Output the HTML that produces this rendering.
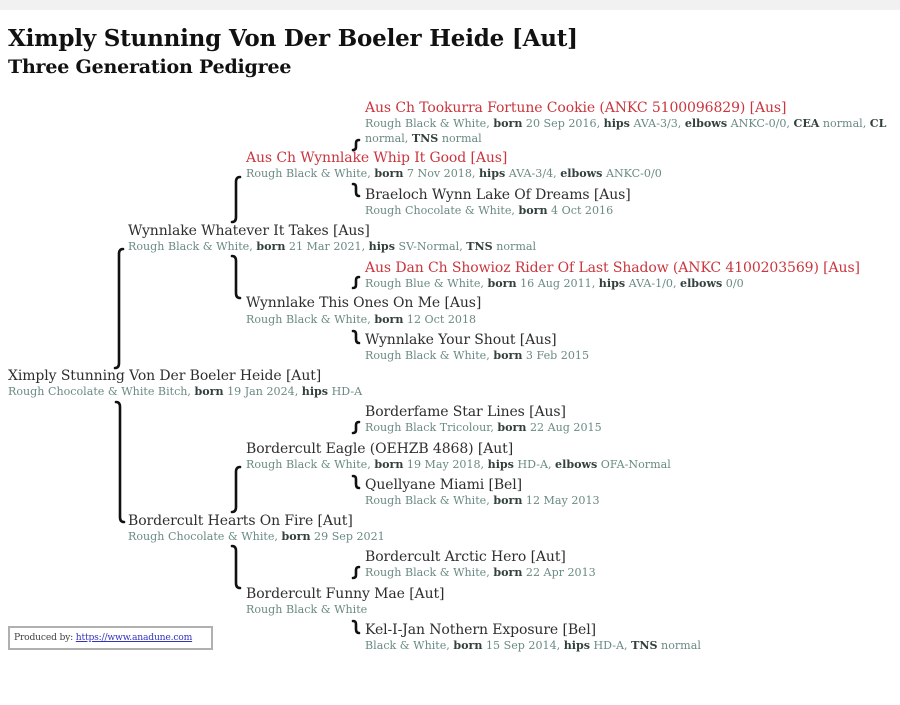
<!DOCTYPE html>
<html><head><meta charset="utf-8">
<style>
body{margin:0;width:900px;height:705px;background:#fff;position:relative;overflow:hidden;font-family:"DejaVu Serif","Liberation Serif",serif;}
.bar{position:absolute;left:0;top:0;width:900px;height:10px;background:#f1f1f1;}
.t1{position:absolute;left:8px;top:25px;font-size:23px;font-weight:bold;color:#111;white-space:nowrap;letter-spacing:-0.2px}
.t2{position:absolute;left:8px;top:56px;font-size:19px;font-weight:bold;color:#111;white-space:nowrap;letter-spacing:-0.2px}
.n{position:absolute;font-size:14px;line-height:16px;color:#2e2e2e;white-space:nowrap;letter-spacing:-0.1px}
.r{color:#c9363e}
.d{position:absolute;font-size:11.1px;line-height:14px;color:#6a8a83;white-space:nowrap}
.d b{color:#33413e}
svg{position:absolute;left:0;top:0}
.box{position:absolute;left:8px;top:626px;border:2px solid #b0b0b0;font-size:9.2px;line-height:20px;color:#444;padding-left:4px;box-sizing:border-box;width:205px;height:24px;white-space:nowrap;overflow:hidden;letter-spacing:-0.2px}
.box span{color:#3333bb;text-decoration:underline}
</style></head><body>
<div class="bar"></div>
<div class="t1">Ximply Stunning Von Der Boeler Heide [Aut]</div>
<div class="t2">Three Generation Pedigree</div>

<div class="n r" style="left:365px;top:100px">Aus Ch Tookurra Fortune Cookie (ANKC 5100096829) [Aus]</div>
<div class="d" style="left:365px;top:117px">Rough Black &amp; White, <b>born</b> 20 Sep 2016, <b>hips</b> AVA-3/3, <b>elbows</b> ANKC-0/0, <b>CEA</b> normal, <b>CL</b></div>
<div class="d" style="left:365px;top:132px">normal, <b>TNS</b> normal</div>

<div class="n r" style="left:246px;top:150px">Aus Ch Wynnlake Whip It Good [Aus]</div>
<div class="d" style="left:246px;top:167px">Rough Black &amp; White, <b>born</b> 7 Nov 2018, <b>hips</b> AVA-3/4, <b>elbows</b> ANKC-0/0</div>

<div class="n" style="left:365px;top:187px">Braeloch Wynn Lake Of Dreams [Aus]</div>
<div class="d" style="left:365px;top:204px">Rough Chocolate &amp; White, <b>born</b> 4 Oct 2016</div>

<div class="n" style="left:128px;top:223px">Wynnlake Whatever It Takes [Aus]</div>
<div class="d" style="left:128px;top:240px">Rough Black &amp; White, <b>born</b> 21 Mar 2021, <b>hips</b> SV-Normal, <b>TNS</b> normal</div>

<div class="n r" style="left:365px;top:260px">Aus Dan Ch Showioz Rider Of Last Shadow (ANKC 4100203569) [Aus]</div>
<div class="d" style="left:365px;top:277px">Rough Blue &amp; White, <b>born</b> 16 Aug 2011, <b>hips</b> AVA-1/0, <b>elbows</b> 0/0</div>

<div class="n" style="left:246px;top:295px">Wynnlake This Ones On Me [Aus]</div>
<div class="d" style="left:246px;top:313px">Rough Black &amp; White, <b>born</b> 12 Oct 2018</div>

<div class="n" style="left:365px;top:332px">Wynnlake Your Shout [Aus]</div>
<div class="d" style="left:365px;top:349px">Rough Black &amp; White, <b>born</b> 3 Feb 2015</div>

<div class="n" style="left:8px;top:368px">Ximply Stunning Von Der Boeler Heide [Aut]</div>
<div class="d" style="left:8px;top:385px">Rough Chocolate &amp; White Bitch, <b>born</b> 19 Jan 2024, <b>hips</b> HD-A</div>

<div class="n" style="left:365px;top:404px">Borderfame Star Lines [Aus]</div>
<div class="d" style="left:365px;top:421px">Rough Black Tricolour, <b>born</b> 22 Aug 2015</div>

<div class="n" style="left:246px;top:441px">Bordercult Eagle (OEHZB 4868) [Aut]</div>
<div class="d" style="left:246px;top:458px">Rough Black &amp; White, <b>born</b> 19 May 2018, <b>hips</b> HD-A, <b>elbows</b> OFA-Normal</div>

<div class="n" style="left:365px;top:477px">Quellyane Miami [Bel]</div>
<div class="d" style="left:365px;top:494px">Rough Black &amp; White, <b>born</b> 12 May 2013</div>

<div class="n" style="left:128px;top:513px">Bordercult Hearts On Fire [Aut]</div>
<div class="d" style="left:128px;top:530px">Rough Chocolate &amp; White, <b>born</b> 29 Sep 2021</div>

<div class="n" style="left:365px;top:549px">Bordercult Arctic Hero [Aut]</div>
<div class="d" style="left:365px;top:566px">Rough Black &amp; White, <b>born</b> 22 Apr 2013</div>

<div class="n" style="left:246px;top:586px">Bordercult Funny Mae [Aut]</div>
<div class="d" style="left:246px;top:603px">Rough Black &amp; White</div>

<div class="n" style="left:365px;top:622px">Kel-I-Jan Nothern Exposure [Bel]</div>
<div class="d" style="left:365px;top:639px">Black &amp; White, <b>born</b> 15 Sep 2014, <b>hips</b> HD-A, <b>TNS</b> normal</div>

<div class="box">Produced by: <span>https://www.anadune.com</span></div>

<svg width="900" height="705" fill="none" stroke="#111" stroke-width="2.6" stroke-linecap="round">
<path d="M123,249 Q119,249 119,254 L119,363 Q119,368 115,368"/>
<path d="M116,402 Q120,402 120,407 L120,517 Q120,522 124,522"/>
<path d="M240,177 Q236,177 236,182 L236,217 Q236,222 232,222"/>
<path d="M232,256 Q236,256 236,261 L236,293 Q236,298 240,298"/>
<path d="M240,467 Q236,467 236,472 L236,507 Q236,512 232,512"/>
<path d="M232,546 Q236,546 236,551 L236,583 Q236,588 240,588"/>
<path d="M359,140 Q356,140 356,143 L356,147 Q356,150 353,150"/>
<path d="M353,184 Q356,184 356,187 L356,192 Q356,196 359,196"/>
<path d="M359,277 Q356,277 356,280 L356,285 Q356,288 353,288"/>
<path d="M353,331 Q356,331 356,334 L356,339 Q356,343 359,343"/>
<path d="M359,422 Q356,422 356,425 L356,430 Q356,433 353,433"/>
<path d="M353,476 Q356,476 356,479 L356,484 Q356,488 359,488"/>
<path d="M359,567 Q356,567 356,570 L356,575 Q356,578 353,578"/>
<path d="M353,621 Q356,621 356,624 L356,629 Q356,633 359,633"/>
</svg>
</body></html>
